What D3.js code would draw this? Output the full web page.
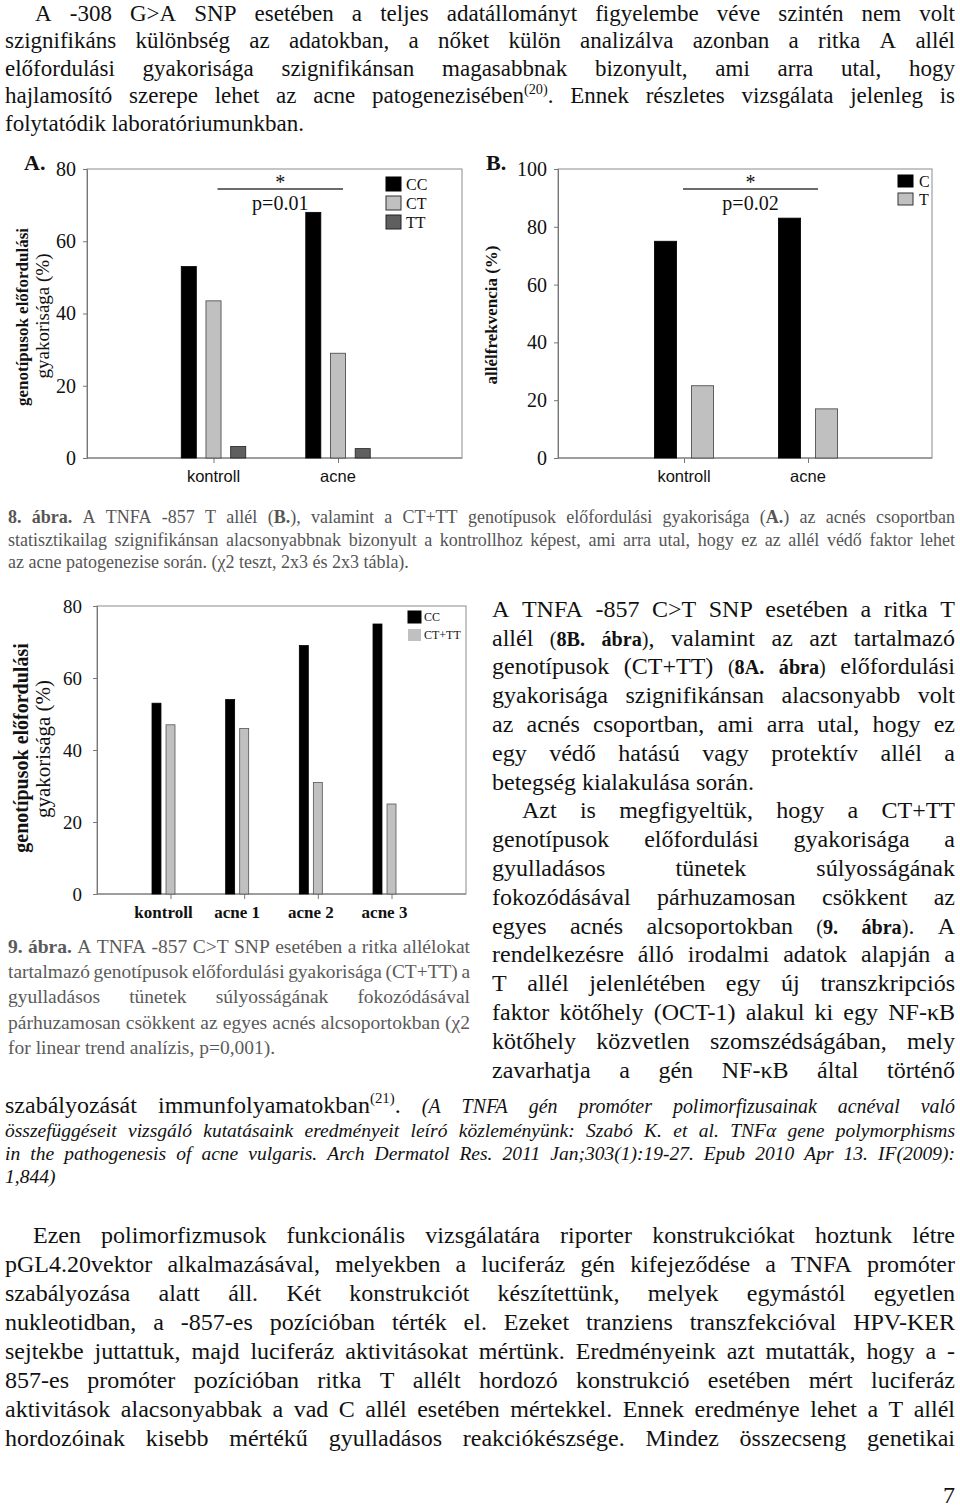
<!DOCTYPE html>
<html><head><meta charset="utf-8">
<script src="https://cdn.jsdelivr.net/npm/d3@7"></script>
<style>html,body{margin:0;padding:0;background:#fff;}svg{display:block;}</style>
</head><body>
<script>
// ---------------- DATA ----------------
const catsAB = ["kontroll", "acne"];
const seriesA = ["CC", "CT", "TT"];
const valsA_CC = [53, 68];
const valsA_CT = [43.5, 29];
const valsA_TT = [3.2, 2.6];
const ticksA = [0, 20, 40, 60, 80];

const seriesB = ["C", "T"];
const valsB_C = [75, 83];
const valsB_T = [25, 17];
const ticksB = [0, 20, 40, 60, 80, 100];

const cats9 = ["kontroll", "acne 1", "acne 2", "acne 3"];
const series9 = ["CC", "CT+TT"];
const vals9_CC = [53, 54, 69, 75];
const vals9_CTTT = [47, 46, 31, 25];
const ticks9 = [0, 20, 40, 60, 80];

// ---------------- TEXT ----------------
const para1 = [
  {s:"A -308 G>A SNP esetében a teljes adatállományt figyelembe véve szintén nem volt", indent:30},
  {s:"szignifikáns különbség az adatokban, a nőket külön analizálva azonban a ritka A allél"},
  {s:"előfordulási gyakorisága szignifikánsan magasabbnak bizonyult, ami arra utal, hogy"},
  {s:"hajlamosító szerepe lehet az acne patogenezisében{s:(20)}. Ennek részletes vizsgálata jelenleg is"},
  {s:"folytatódik laboratóriumunkban.", left:true}
];
const caption8 = [
  {s:"{b:8. ábra.} A TNFA -857 T allél ({b:B.}), valamint a CT+TT genotípusok előfordulási gyakorisága ({b:A.}) az acnés csoportban"},
  {s:"statisztikailag szignifikánsan alacsonyabbnak bizonyult a kontrollhoz képest, ami arra utal, hogy ez az allél védő faktor lehet"},
  {s:"az acne patogenezise során. (χ2 teszt, 2x3 és 2x3 tábla).", left:true}
];
const rightCol = [
  {s:"A TNFA -857 C>T SNP esetében a ritka T"},
  {s:"allél {m:(}{mb:8B. ábra}{m:)}, valamint az azt tartalmazó"},
  {s:"genotípusok (CT+TT) {m:(}{mb:8A. ábra}{m:)} előfordulási"},
  {s:"gyakorisága szignifikánsan alacsonyabb volt"},
  {s:"az acnés csoportban, ami arra utal, hogy ez"},
  {s:"egy védő hatású vagy protektív allél a"},
  {s:"betegség kialakulása során.", left:true},
  {s:"Azt is megfigyeltük, hogy a CT+TT", indent:30},
  {s:"genotípusok előfordulási gyakorisága a"},
  {s:"gyulladásos tünetek súlyosságának"},
  {s:"fokozódásával párhuzamosan csökkent az"},
  {s:"egyes acnés alcsoportokban {m:(}{mb:9. ábra}{m:)}. A"},
  {s:"rendelkezésre álló irodalmi adatok alapján a"},
  {s:"T allél jelenlétében egy új transzkripciós"},
  {s:"faktor kötőhely (OCT-1) alakul ki egy NF-κB"},
  {s:"kötőhely közvetlen szomszédságában, mely"},
  {s:"zavarhatja a gén NF-κB által történő"}
];
const fullLine = [
  {s:"szabályozását immunfolyamatokban{s:(21)}. {i:(A TNFA gén promóter polimorfizusainak acnéval való}"}
];
const italicLines = [
  {s:"összefüggéseit vizsgáló kutatásaink eredményeit leíró közleményünk: Szabó K. et al. TNFα gene polymorphisms"},
  {s:"in the pathogenesis of acne vulgaris. Arch Dermatol Res. 2011 Jan;303(1):19-27. Epub 2010 Apr 13. IF(2009):"},
  {s:"1,844)", left:true}
];
const caption9 = [
  {s:"{b:9. ábra.} A TNFA -857 C>T SNP esetében a ritka allélokat"},
  {s:"tartalmazó genotípusok előfordulási gyakorisága (CT+TT) a"},
  {s:"gyulladásos tünetek súlyosságának fokozódásával"},
  {s:"párhuzamosan csökkent az egyes acnés alcsoportokban (χ2"},
  {s:"for linear trend analízis, p=0,001).", left:true}
];
const para2 = [
  {s:"Ezen polimorfizmusok funkcionális vizsgálatára riporter konstrukciókat hoztunk létre", indent:28},
  {s:"pGL4.20vektor alkalmazásával, melyekben a luciferáz gén kifejeződése a TNFA promóter"},
  {s:"szabályozása alatt áll. Két konstrukciót készítettünk, melyek egymástól egyetlen"},
  {s:"nukleotidban, a -857-es pozícióban térték el. Ezeket tranziens transzfekcióval HPV-KER"},
  {s:"sejtekbe juttattuk, majd luciferáz aktivitásokat mértünk. Eredményeink azt mutatták, hogy a -"},
  {s:"857-es promóter pozícióban ritka T allélt hordozó konstrukció esetében mért luciferáz"},
  {s:"aktivitások alacsonyabbak a vad C allél esetében mértekkel. Ennek eredménye lehet a T allél"},
  {s:"hordozóinak kisebb mértékű gyulladásos reakciókészsége. Mindez összecseng genetikai"}
];

// ---------------- SETUP ----------------
const W = 960, H = 1509;
const SERIF = "'Liberation Serif','Times New Roman',serif";
const SANS = "'Liberation Sans',Arial,sans-serif";
const svg = d3.select("body").append("svg").attr("width", W).attr("height", H);
svg.append("rect").attr("width", W).attr("height", H).attr("fill", "#fff");

function parseLine(str){
  const runs = []; const re = /\{(\w+):([^}]*)\}/g; let last = 0, m;
  while ((m = re.exec(str))) {
    if (m.index > last) runs.push({t: str.slice(last, m.index), c: ""});
    runs.push({t: m[2], c: m[1]}); last = re.lastIndex;
  }
  if (last < str.length) runs.push({t: str.slice(last), c: ""});
  const words = [[]];
  runs.forEach(r => {
    r.t.split(" ").forEach((p, i) => {
      if (i > 0) words.push([]);
      if (p) words[words.length - 1].push({t: p, c: r.c});
    });
  });
  return words.filter(w => w.length);
}

function makeWord(parent, runs, o){
  const t = parent.append("text")
    .attr("font-family", o.family || SERIF).attr("font-size", o.size)
    .attr("fill", o.fill || "#111")
    .attr("font-style", o.style || null).attr("font-weight", o.weight || null);
  let shift = 0;
  runs.forEach(r => {
    const ts = t.append("tspan").text(r.t);
    let ns = 0;
    if (r.c === "b") ts.attr("font-weight", "bold");
    if (r.c === "s") { ts.attr("font-size", o.size * 0.62); ns = -o.size * 0.42; }
    if (r.c === "m") ts.attr("font-size", o.size * 0.84);
    if (r.c === "mb") ts.attr("font-size", o.size * 0.84).attr("font-weight", "bold");
    if (r.c === "i") ts.attr("font-size", o.size * 0.83).attr("font-style", "italic");
    if (ns !== shift) { ts.attr("dy", ns - shift); shift = ns; }
  });
  return t;
}

function textBlock(lines, o){
  const g = svg.append("g");
  lines.forEach((ln, i) => {
    const y = o.y0 + i * o.lh;
    const xs = o.x0 + (ln.indent || 0);
    const avail = o.x1 - xs;
    const words = parseLine(ln.s);
    const nodes = words.map(w => makeWord(g, w, o));
    const widths = nodes.map(n => n.node().getComputedTextLength());
    const sum = d3.sum(widths);
    const minGap = o.size * 0.18, normGap = o.size * 0.25;
    let gap, f = 1;
    if (ln.left) {
      gap = normGap;
      if (sum + gap * (nodes.length - 1) > avail) f = (avail - gap * (nodes.length - 1)) / sum;
    } else {
      gap = nodes.length > 1 ? (avail - sum) / (nodes.length - 1) : 0;
      if (gap < minGap) { gap = minGap; f = (avail - gap * (nodes.length - 1)) / sum; }
    }
    let x = xs;
    nodes.forEach((n, k) => {
      n.attr("transform", `translate(${x},${y}) scale(${f},1)`);
      x += widths[k] * f + gap;
    });
  });
}

// ---------------- CHART ----------------
function barChart(cfg){
  const {x0, y0, x1, y1} = cfg.frame;
  const g = svg.append("g");
  const y = d3.scaleLinear().domain([0, cfg.yMax]).range([y1, y0]);
  const x = d3.scalePoint().domain(cfg.cats).range([x0 + cfg.inset[0], x1 - cfg.inset[1]]);
  const xs = d3.scaleBand().domain(cfg.series).range([-cfg.subHalf, cfg.subHalf]).paddingInner(cfg.subPad);

  g.append("rect").attr("x", x0).attr("y", y0).attr("width", x1 - x0).attr("height", y1 - y0)
    .attr("fill", "none").attr("stroke", "#8c8c8c").attr("stroke-width", 1);

  const ya = g.append("g").attr("transform", `translate(${x0},0)`)
    .call(d3.axisLeft(y).tickValues(cfg.ticks).tickSize(4).tickPadding(cfg.labPad).tickFormat(d3.format("d")));
  ya.select(".domain").attr("stroke", "#777");
  ya.selectAll(".tick line").attr("stroke", "#777");
  ya.selectAll(".tick text").attr("font-family", SERIF).attr("font-size", cfg.tickFont).attr("fill", "#111");

  const xa = g.append("g").attr("transform", `translate(${cfg.tickShift || 0},${y1})`)
    .call(d3.axisBottom(x).tickSize(5).tickFormat(""));
  xa.select(".domain").remove();
  xa.selectAll(".tick line").attr("stroke", "#777");
  g.append("line").attr("x1", x0).attr("x2", x1).attr("y1", y1).attr("y2", y1).attr("stroke", "#777");

  g.selectAll(".xl").data(cfg.cats).enter().append("text")
    .attr("x", d => x(d)).attr("y", cfg.xLabY).attr("text-anchor", "middle")
    .attr("font-family", cfg.xLabFamily).attr("font-size", cfg.xLabSize)
    .attr("font-weight", cfg.xLabWeight || null).attr("fill", "#111").text(d => d);

  cfg.series.forEach((s, j) => {
    g.selectAll(null).data(cfg.cats.map((c, i) => ({c, v: cfg.values[j][i]}))).enter().append("rect")
      .attr("x", d => x(d.c) + xs(s)).attr("width", xs.bandwidth())
      .attr("y", d => y(d.v)).attr("height", d => y(0) - y(d.v))
      .attr("fill", cfg.fills[j]).attr("stroke", cfg.strokes[j]).attr("stroke-width", cfg.strokes[j] === "none" ? 0 : 0.8);
  });

  // legend
  const L = cfg.legend;
  cfg.series.forEach((s, j) => {
    const yy = L.y + j * L.step;
    g.append("rect").attr("x", L.x).attr("y", yy).attr("width", L.w).attr("height", L.h)
      .attr("fill", cfg.fills[j]).attr("stroke", L.strokes[j]).attr("stroke-width", L.strokes[j] === "none" ? 0 : 1);
    g.append("text").attr("x", L.x + L.w + L.gap).attr("y", yy + L.h / 2).attr("dy", "0.35em")
      .attr("font-family", SERIF).attr("font-size", L.size).attr("fill", "#111").text(s);
  });

  // y title
  cfg.yTitle.forEach(t => {
    g.append("text").attr("transform", `translate(${t.x},${t.cy}) rotate(-90)`)
      .attr("text-anchor", "middle").attr("font-family", SERIF).attr("font-size", t.size)
      .attr("font-weight", t.bold ? "bold" : null).attr("fill", "#111").text(t.text);
  });

  // panel label
  if (cfg.panel) {
    g.append("text").attr("x", cfg.panel.x).attr("y", cfg.panel.y).attr("font-family", SERIF)
      .attr("font-size", 22).attr("font-weight", "bold").attr("fill", "#111").text(cfg.panel.text);
  }
  // significance
  if (cfg.sig) {
    const s = cfg.sig;
    const xa1 = x(cfg.cats[0]) + s.from, xa2 = x(cfg.cats[1]) + s.to, cx = (xa1 + xa2) / 2;
    g.append("line").attr("x1", xa1).attr("x2", xa2).attr("y1", s.y).attr("y2", s.y)
      .attr("stroke", "#3a3a3a").attr("stroke-width", 1.3);
    g.append("text").attr("x", cx).attr("y", s.y).attr("text-anchor", "middle")
      .attr("font-family", SERIF).attr("font-size", 20).attr("fill", "#111").text("*");
    g.append("text").attr("x", cx).attr("y", s.y + 21).attr("text-anchor", "middle")
      .attr("font-family", SERIF).attr("font-size", 20).attr("fill", "#111").text(s.text);
  }
}

// ---------------- DRAW ----------------
textBlock(para1, {x0:5, x1:955, y0:20.5, lh:27.6, size:23});

barChart({
  frame:{x0:87, y0:169, x1:462, y1:458}, yMax:80, ticks:ticksA, labPad:7, tickFont:20,
  cats:catsAB, series:seriesA, values:[valsA_CC, valsA_CT, valsA_TT],
  inset:[126.5, 124], subHalf:32.25, subPad:0.39,
  fills:["#000", "#c0c0c0", "#5f5f5f"], strokes:["#000", "#404040", "#222"],
  xLabY:482, xLabFamily:SANS, xLabSize:16.5,
  legend:{x:386, y:177, step:19, w:15, h:14, gap:5, size:16, strokes:["#000", "#333", "#222"]},
  yTitle:[{text:"genotípusok előfordulási", x:28, cy:317, size:17, bold:true},
          {text:"gyakorisága (%)", x:49, cy:316, size:19}],
  panel:{x:24, y:170, text:"A."},
  sig:{from:4, to:5, y:189, text:"p=0.01"}
});

barChart({
  frame:{x0:558, y0:169, x1:932, y1:458}, yMax:100, ticks:ticksB, labPad:7, tickFont:20,
  cats:catsAB, series:seriesB, values:[valsB_C, valsB_T],
  inset:[126, 124], subHalf:29.6, subPad:0.4,
  fills:["#000", "#c0c0c0"], strokes:["#000", "#404040"],
  xLabY:482, xLabFamily:SANS, xLabSize:16.5,
  legend:{x:898, y:175, step:18, w:15, h:12, gap:6, size:16, strokes:["#000", "#333"]},
  yTitle:[{text:"allélfrekvencia (%)", x:497, cy:315, size:17, bold:true}],
  panel:{x:486, y:170, text:"B."},
  sig:{from:-1, to:10, y:189, text:"p=0.02"}
});

textBlock(caption8, {x0:8, x1:955, y0:523, lh:22.7, size:18, fill:"#555"});

barChart({
  frame:{x0:97, y0:606, x1:466, y1:894}, yMax:80, ticks:ticks9, labPad:11, tickFont:19,
  cats:cats9, series:series9, values:[vals9_CC, vals9_CTTT],
  inset:[66.5, 81.5], subHalf:11.5, subPad:0.36, tickShift:7,
  fills:["#000", "#c0c0c0"], strokes:["#000", "#555"],
  xLabY:918, xLabFamily:SERIF, xLabSize:17, xLabWeight:"bold",
  legend:{x:408, y:611, step:18, w:13, h:12, gap:3, size:12, strokes:["#000", "none"]},
  yTitle:[{text:"genotípusok előfordulási", x:28, cy:748, size:20, bold:true},
          {text:"gyakorisága (%)", x:50, cy:749, size:21}]
});

textBlock(caption9, {x0:8, x1:470, y0:953, lh:25.2, size:19.5, fill:"#5a5a5a"});
textBlock(rightCol, {x0:492, x1:955, y0:616.7, lh:28.8, size:24});
textBlock(fullLine, {x0:5, x1:955, y0:1113, lh:28, size:24});
textBlock(italicLines, {x0:5, x1:955, y0:1137, lh:23, size:19.5, style:"italic"});
textBlock(para2, {x0:5, x1:955, y0:1243, lh:29, size:24});

svg.append("text").attr("x", 955).attr("y", 1503).attr("text-anchor", "end")
  .attr("font-family", SERIF).attr("font-size", 24).attr("fill", "#111").text("7");
</script>
</body></html>
